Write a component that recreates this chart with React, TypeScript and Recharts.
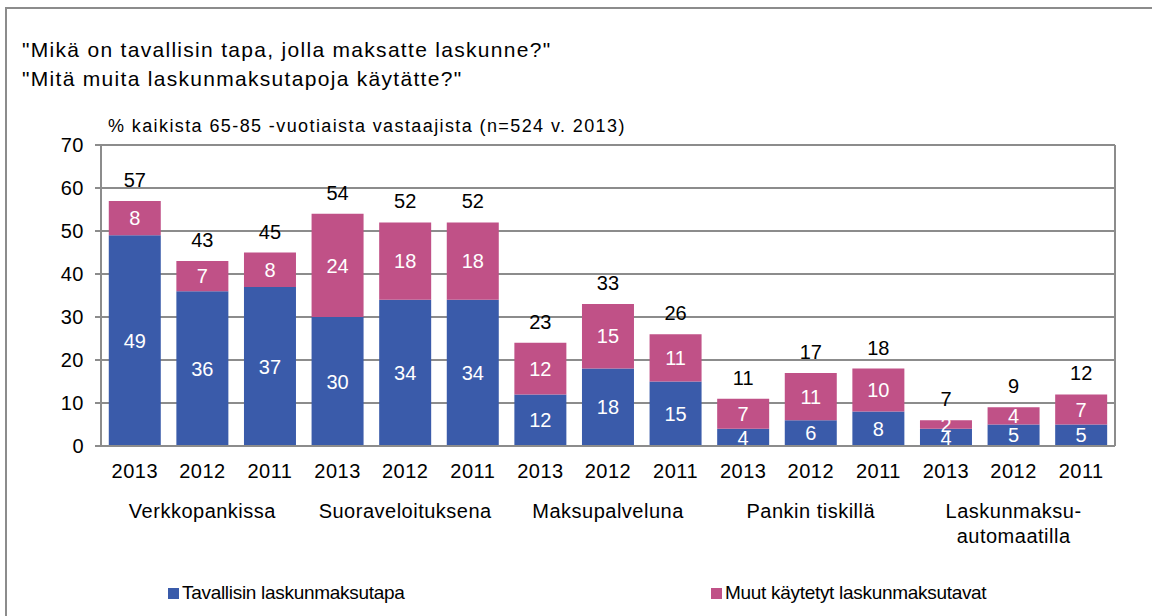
import { BarChart, Bar, XAxis, YAxis, CartesianGrid, LabelList, Legend } from 'recharts'

const groups = ['Verkkopankissa', 'Suoraveloituksena', 'Maksupalveluna', 'Pankin tiskillä', 'Laskunmaksu-\nautomaatilla']
const years = ['2013', '2012', '2011']
const usual = [49, 36, 37, 30, 34, 34, 12, 18, 15, 4, 6, 8, 4, 5, 5]
const other = [8, 7, 8, 24, 18, 18, 12, 15, 11, 7, 11, 10, 2, 4, 7]
const totals = [57, 43, 45, 54, 52, 52, 23, 33, 26, 11, 17, 18, 7, 9, 12]
const yTicks = [0, 10, 20, 30, 40, 50, 60, 70]

const BLUE = '#3a5baa'
const PINK = '#c05187'
const GRID = '#8c8c8c'
const FONT = '"Liberation Sans", Arial, sans-serif'

const data = usual.map((u, i) => ({
  year: years[i % 3],
  group: groups[Math.floor(i / 3)],
  usual: u,
  other: other[i],
  total: totals[i],
}))

const numFont = { fill: '#000', fontSize: 20, fontFamily: FONT, letterSpacing: 0.5 }

function GroupTick(props: any) {
  const { x, y, payload } = props
  if (payload.index % 3 !== 1) return null
  const lines = String(payload.value).split('\n')
  return (
    <text x={x} y={y} textAnchor="middle" fontSize={20} fontFamily={FONT} fill="#000" letterSpacing={0.5}>
      {lines.map((l, i) => (
        <tspan key={i} x={x} dy={i === 0 ? 28 : 25}>
          {l}
        </tspan>
      ))}
    </text>
  )
}

function LegendBox() {
  const items = [
    { label: 'Tavallisin laskunmaksutapa', color: BLUE, left: 168 },
    { label: 'Muut käytetyt laskunmaksutavat', color: PINK, left: 711 },
  ]
  return (
    <div style={{ position: 'relative', height: 50, fontFamily: FONT, fontSize: 19, letterSpacing: -0.3 }}>
      {items.map((it) => (
        <div
          key={it.label}
          style={{ position: 'absolute', left: it.left, top: 16, display: 'flex', alignItems: 'center' }}
        >
          <span style={{ display: 'inline-block', width: 11, height: 11, background: it.color, marginRight: 3 }} />
          <span>{it.label}</span>
        </div>
      ))}
    </div>
  )
}

export default function App() {
  return (
    <div style={{ position: 'absolute', left: 0, top: 0, width: 1152, height: 616, overflow: 'hidden', background: '#fff' }}>
      <style>{'body{margin:0}'}</style>
      <div
        style={{
          position: 'absolute',
          left: 5,
          top: 7,
          width: 1200,
          height: 700,
          borderLeft: `2px solid ${GRID}`,
          borderTop: `2px solid ${GRID}`,
        }}
      />
      <div
        style={{
          position: 'absolute',
          left: 22,
          top: 35,
          fontFamily: FONT,
          fontSize: 21,
          letterSpacing: 1.3,
          lineHeight: '29px',
          color: '#000',
        }}
      >
        <div>"Mikä on tavallisin tapa, jolla maksatte laskunne?"</div>
        <div>"Mitä muita laskunmaksutapoja käytätte?"</div>
      </div>
      <div
        style={{
          position: 'absolute',
          left: 108,
          top: 116,
          fontFamily: FONT,
          fontSize: 18,
          letterSpacing: 1.4,
          color: '#000',
        }}
      >
        % kaikista 65-85 -vuotiaista vastaajista (n=524 v. 2013)
      </div>
      <div style={{ position: 'absolute', left: 0, top: 0 }}>
        <BarChart
          width={1152}
          height={616}
          data={data}
          margin={{ top: 145, right: 37, left: 0, bottom: 0 }}
          barCategoryGap="11.5%"
        >
          <CartesianGrid
            stroke={GRID}
            strokeWidth={2}
            verticalCoordinatesGenerator={({ offset }: any) => [offset.left, offset.left + offset.width]}
          />
          <XAxis
            dataKey="year"
            interval={0}
            height={36}
            tickLine={false}
            axisLine={{ stroke: GRID, strokeWidth: 2 }}
            tick={numFont}
            tickMargin={12}
          />
          <XAxis
            xAxisId="group"
            dataKey="group"
            interval={0}
            height={84}
            tickLine={false}
            axisLine={false}
            tick={<GroupTick />}
          />
          <YAxis
            width={101}
            domain={[0, 70]}
            ticks={yTicks}
            interval={0}
            tickSize={6}
            tickLine={{ stroke: GRID, strokeWidth: 2 }}
            axisLine={{ stroke: GRID, strokeWidth: 2 }}
            tick={numFont}
            tickMargin={11}
          />
          <Legend verticalAlign="bottom" height={50} content={<LegendBox />} />
          <Bar dataKey="usual" stackId="a" fill={BLUE} isAnimationActive={false}>
            <LabelList dataKey="usual" position="center" fill="#fff" fontSize={20} fontFamily={FONT} />
          </Bar>
          <Bar dataKey="other" stackId="a" fill={PINK} isAnimationActive={false}>
            <LabelList dataKey="other" position="center" fill="#fff" fontSize={20} fontFamily={FONT} />
            <LabelList dataKey="total" position="top" offset={14} fill="#000" fontSize={20} fontFamily={FONT} />
          </Bar>
        </BarChart>
      </div>
    </div>
  )
}
